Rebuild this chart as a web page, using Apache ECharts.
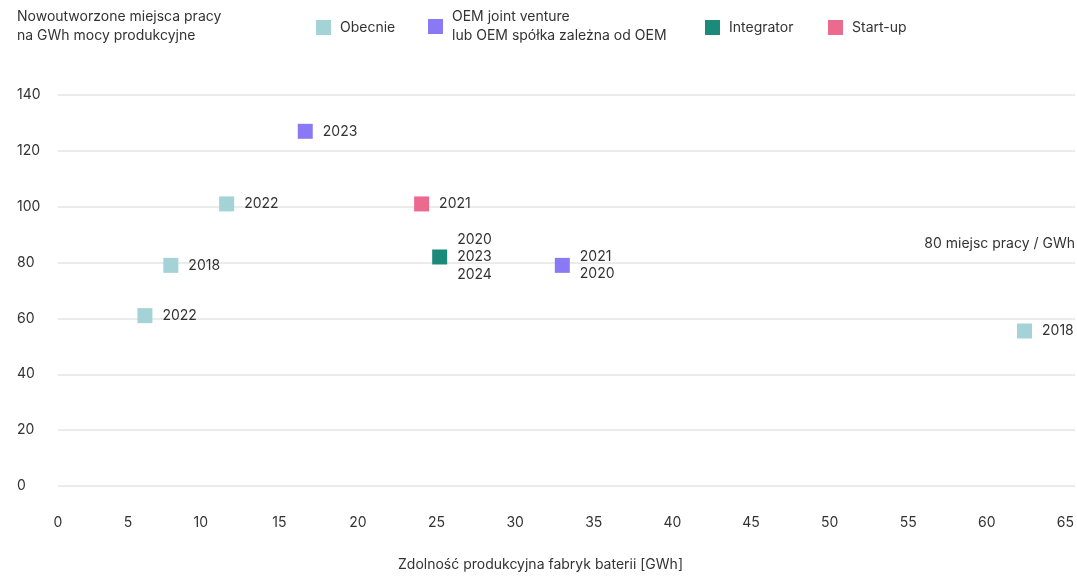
<!DOCTYPE html>
<html>
<head>
<meta charset="utf-8">
<script src="https://cdn.jsdelivr.net/npm/echarts@6/dist/echarts.min.js"></script>
<style>
  html, body { margin: 0; padding: 0; background: #fff; }
  #chart { width: 1077px; height: 577px; }
</style>
</head>
<body>
<div id="chart"></div>
<script>
// Capacity (GWh) vs new jobs per GWh, grouped by company type
const seriesNames = ['Obecnie', 'OEM joint venture lub OEM spółka zależna od OEM', 'Integrator', 'Start-up'];
const legendTexts = ['Obecnie', 'OEM joint venture\nlub OEM spółka zależna od OEM', 'Integrator', 'Start-up'];
const seriesColors = ['#a3d3d6', '#8a79f5', '#1c8a7b', '#ec6a8e'];

const obecnieX = [6.45, 8.1, 11.65, 62.4];
const obecnieY = [61, 79, 101, 55.5];
const obecnieYears = ['2022', '2018', '2022', '2018'];

const oemX = [16.65, 33.0];
const oemY = [127, 79];
const oemYears = ['2023', '2021\n2020'];

const integratorX = [25.2];
const integratorY = [82];
const integratorYears = ['2020\n2023\n2024'];

const startupX = [24.05];
const startupY = [101];
const startupYears = ['2021'];

const xTicks = { min: 0, max: 65, step: 5 };
const yTicks = { min: 0, max: 140, step: 20 };

const FONT = 'Inter, "Noto Sans", sans-serif';
const TEXT = '#333333';

function points(xs, ys, names) {
  return xs.map((x, i) => ({ value: [x, ys[i]], name: names[i] }));
}

const groups = [
  points(obecnieX, obecnieY, obecnieYears),
  points(oemX, oemY, oemYears),
  points(integratorX, integratorY, integratorYears),
  points(startupX, startupY, startupYears)
];

const chart = echarts.init(document.getElementById('chart'), null, { renderer: 'canvas' });

const legendLeft = [316, 428, 705, 828];
const legendTop = [18, 7.5, 18, 18];

chart.setOption({
  backgroundColor: '#ffffff',
  animation: false,
  textStyle: { fontFamily: FONT },
  title: {
    text: 'Nowoutworzone miejsca pracy\nna GWh mocy produkcyjne',
    left: 17,
    top: 7.5,
    padding: 0,
    textStyle: { fontFamily: FONT, fontSize: 14, fontWeight: 'normal', color: TEXT, lineHeight: 19 }
  },
  legend: seriesNames.map((n, i) => ({
    data: [n],
    left: legendLeft[i],
    top: legendTop[i],
    padding: 0,
    icon: 'rect',
    itemWidth: 15,
    itemHeight: 15,
    selectedMode: false,
    formatter: () => legendTexts[i],
    textStyle: { fontFamily: FONT, fontSize: 14, color: TEXT, lineHeight: 19, padding: [0, 0, 0, 4] }
  })),
  grid: [
    // plotting area for the markers
    { left: 43.5, right: 10, top: 95, bottom: 91 },
    // horizontal gridlines and value labels
    { left: 58, right: 2, top: 95, bottom: 91 }
  ],
  xAxis: [
    {
      type: 'value', gridIndex: 0,
      min: xTicks.min, max: xTicks.max, interval: xTicks.step,
      axisLine: { show: false }, axisTick: { show: false }, splitLine: { show: false },
      axisLabel: {
        margin: 30,
        fontFamily: FONT, fontSize: 14, color: TEXT,
        formatter: v => v === 0 ? '{s0|0}' : (v === 5 ? '{s5|5}' : String(v)),
        rich: {
          s0: { padding: [0, 0, 0, 29], fontFamily: FONT, fontSize: 14, color: TEXT },
          s5: { padding: [0, 0, 0, 12], fontFamily: FONT, fontSize: 14, color: TEXT }
        }
      }
    },
    {
      type: 'value', gridIndex: 1, min: 0, max: 1, show: false
    }
  ],
  yAxis: [
    {
      type: 'value', gridIndex: 0,
      min: yTicks.min, max: yTicks.max, interval: yTicks.step,
      show: false
    },
    {
      type: 'value', gridIndex: 1,
      min: yTicks.min, max: yTicks.max, interval: yTicks.step,
      axisLine: { show: false }, axisTick: { show: false },
      splitLine: { show: true, lineStyle: { color: '#e4e4e4', width: 1.5 } },
      axisLabel: { align: 'left', margin: 41, fontFamily: FONT, fontSize: 14, color: TEXT }
    }
  ],
  graphic: [
    {
      type: 'text', left: 398, top: 558,
      style: { text: 'Zdolność produkcyjna fabryk baterii [GWh]', fontFamily: FONT, fontSize: 14, fill: TEXT }
    },
    {
      type: 'text', right: 2, top: 237,
      style: { text: '80 miejsc pracy / GWh', fontFamily: FONT, fontSize: 14, fill: TEXT, align: 'right' }
    }
  ],
  series: seriesNames.map((n, i) => ({
    name: n,
    type: 'scatter',
    xAxisIndex: 0,
    yAxisIndex: 0,
    symbol: 'rect',
    symbolSize: 15,
    itemStyle: { color: seriesColors[i], opacity: 1 },
    label: {
      show: true,
      position: 'right',
      distance: 10,
      formatter: '{b}',
      fontFamily: FONT,
      fontSize: 14,
      lineHeight: 17.5,
      color: TEXT
    },
    emphasis: { disabled: true },
    data: groups[i]
  }))
});
</script>
</body>
</html>
